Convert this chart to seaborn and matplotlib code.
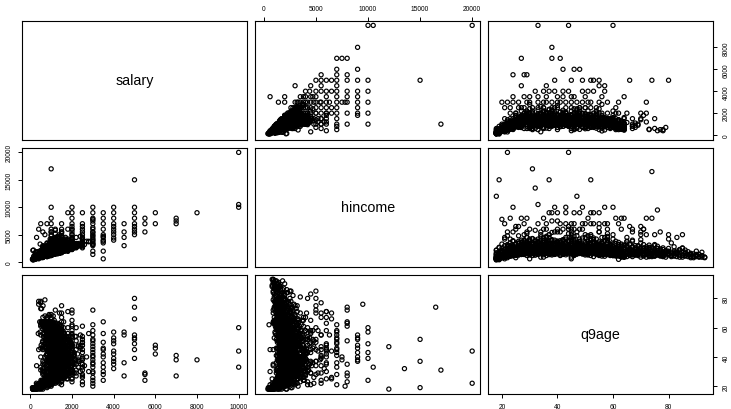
import numpy as np
import pandas as pd
import matplotlib
matplotlib.use("Agg")
import matplotlib.pyplot as plt
import seaborn as sns

nan = np.nan

# ---- respondents with a salary (salary, household income, age) ----
salary_core = [
    300, 500, 600, 800, 1000, 700, 1200, 900, 1500, 1000, 1300, 800, 450, 650, 1100, 1400, 2000, 400, 750, 950,
    1600, 1800, 2200, 200, 350, 550, 850, 1250, 1700, 1000, 1500, 2000, 2500, 1200, 600, 800, 1000, 1500, 1800, 2400,
    1000, 1200, 1500, 800, 2000, 1100, 900, 1300, 1600, 2500, 700, 1800, 1000, 1400, 2200, 500, 1700, 1900, 600, 1250,
    2800, 1000, 1500, 2000, 1200, 800, 1000, 1500, 2000, 900, 1350, 1100, 2300, 600, 1000, 1700, 800, 1500, 1200, 2600,
    1000, 1500, 1200, 2000, 800, 1800, 1300, 1000, 2500, 1600, 700, 1100, 1500, 900, 2000, 1400, 1000, 2200, 600, 1200,
    2700, 1000, 1600, 2000, 1100, 800, 1500, 1200, 1800, 1000, 500, 2100, 1300, 1000, 600, 2400, 1700, 900, 1500, 1900,
    1000, 1500, 1200, 800, 2000, 1100, 1800, 1300, 900, 600, 2500, 1000, 1600, 1200, 700, 2200, 1400, 500, 1000, 1500,
    1700, 900, 1000, 2800, 1300, 1000, 2000, 1500, 800, 1100, 1200, 600, 1900, 1000, 1500, 2400, 800, 1400, 2000, 1000,
    1000, 1500, 800, 1200, 600, 2000, nan, nan, 700, nan, 1800, 500, 1100, nan, nan, 2500, 1000, nan, nan, 900,
    2200, 1000, 1600, nan, 1100, 700, 1300, nan, 1500, nan, 1200, 900, 2000, 600, 1000, nan, nan, 800, nan, nan,
    nan, nan, 1200, nan, nan, 1500, nan, 500, nan, nan, 2000, nan, nan, nan, 400, nan, nan, nan, nan, 700,
    nan, nan, nan, nan, nan, nan, nan, nan, nan, nan, nan, nan, nan, nan, nan, nan, nan, nan, nan, nan,
    500, 800, 1000, 1200, 1500, 1800, 2000, 1000, 1200, 800, 1500, 1000, 1800, 1200, 1000, 800, 1500, 1200, 1000, 900,
    1000, 1200, 800, nan, 600, nan, nan, 500, nan, nan, 250, 400, 700, 1000, 1300, 1600, 1000, 2000, 1500, 1200,
    2000, 1000, 1500, 1200, 1000, 1800, 1300, 1000, 1500, 800, 1000, 700, nan, 900, nan, nan, nan, nan, nan, nan,
    1100, 1400, 600, 1500, 800, 1800, 1000, 1600, 1200, 2000, 1400, 1000, 1100, 1300, 1500, nan, nan, nan, 400, nan,
    700, 2000, 1000, 1500, 1200, 2500, 1000, 1800, 1400, 1000, 1500, 1200, 2000, 900, 1400, nan, nan, nan, nan, nan,
    1500, 900, 1200, 600, 1500, 1000, 1200, 800, 1000, 1500, 900, 1300, 1500, 1600, 1000, nan, nan, nan, nan, 500,
    800, 1200, 1800, 1000, 2200, 1300, 900, 1500, 2000, 800, 1300, 1600, 800, 1200, 600, 900, nan, nan, nan, nan,
    1000, 1600, 2000, 900, 1500, 1300, 1100, 1800, 1300, 1900, 1000, 1500, 700, 1200, nan, nan, nan, nan, nan, nan,
    1300, 900, 1500, 1100, 2000, 1400, 1000, 1600, 1000, 1200, 2200, 1000, 1500, 800, nan, 1000, nan, nan, nan, nan,
    600, 1000, 1000, 1700, 1200, 1800, 1500, 2100, 1300, 1000, 1800, 1500, 1000, 1300, 900, 1100, nan, nan, nan, nan,
    1000, 700, 1200, 2000, 1200, 1600, 1200, 2000, 1300, 800, 1000, 1400, nan, nan, nan, nan, nan, nan, nan, nan,
    1000, 1300, 1100, 1400, 1500, 1000, 1300, 1100, 1200, nan, nan, nan, nan, nan, nan, nan, 1200, 1000, 1800, 1600,
    200, 400, 900, 1500, 700, 1100, 1300, 600, 1700, 900, 2300, 1300, 800, 1600, 1000, 1100, 700, 1300, 900, 1200,
    1100, 1300, 1000, 600, 100, 500, 1300, 1100, 800, 2000, 600, 1200, 1600, 1000, 1800, 1200, 900, 1400, 1700, 700,
    1200, 700, 1100, 1600, 1300, 500, 700, 150, 1000, 1300, 1500, 1000, 1200, 1100, 900, 1000, 1100, 1000, 1500, 1400,
    600, 1000, 800, 1000, 1200, 1000, 800, 1000, 1000, 1400, 2200, 1000, 1200, 1500, 2400, 1500, 1200, 800, 300, 500,
]
hincome_core = [
    800, 1500, 2100, 1200, 3000, 2500, 1800, 3300, 2400, 4000, 2000, 3500, 1100, 2800, 1900, 3800, 2600, 1600, 2300, 4200,
    2200, 3100, 4500, 700, 900, 1300, 2000, 1700, 2900, 1500, 3500, 2300, 3600, 5200, 2700, 1000, 2600, 4800, 4000, 3000,
    2000, 3200, 2500, 1800, 4000, 1600, 3000, 4500, 2100, 3300, 1400, 2600, 5500, 2200, 2900, 1200, 4200, 3600, 2800, 1900,
    3800, 1300, 4600, 2600, 2000, 2500, 3700, 1900, 5000, 1500, 2700, 4300, 3100, 900, 1700, 2400, 3400, 3000, 5800, 3200,
    2200, 3000, 1800, 4200, 1500, 2500, 3600, 4800, 3200, 2100, 1900, 2800, 5200, 1300, 2600, 3900, 1600, 3400, 2000, 4400,
    3800, 2500, 2300, 6000, 1700, 1200, 4500, 2900, 2700, 3300, 1500, 2700, 2100, 4000, 900, 4700, 3500, 2200, 1800, 2400,
    2000, 3400, 2500, 1600, 4200, 2300, 2800, 3900, 1500, 1200, 3600, 5000, 2500, 2100, 2600, 3000, 4400, 1400, 2800, 2000,
    2600, 1800, 3500, 3700, 4700, 1400, 2700, 5500, 2000, 2400, 1700, 2200, 3300, 4100, 2100, 3200, 1100, 1800, 4500, 3000,
    2500, 2200, 1500, 3300, 1900, 3800, 1600, 2700, 1300, 2100, 4200, 1400, 3000, 2300, 2600, 3400, 1700, 1000, 4000, 1900,
    2900, 3600, 2400, 2200, 1800, 1100, 2000, 4500, 2800, 1500, 1600, 2600, 3200, 900, 1400, 3700, 2500, 1700, 3000, 2300,
    2000, 1500, 2800, 1200, 2400, 3000, 1600, 1100, 2300, 1700, 3500, 1900, 1400, 2100, 1000, 2600, 3100, 1800, 1300, 2000,
    1500, 1200, 2000, 1000, 1800, 900, 1600, 1400, 1100, 800, 2500, 1700, 2200, 1300, 1000, 1200, 900, 1100, 800, 2600,
    1400, 1000, 1600, 2900, 3100, 2400, 3500, 2800, 1500, 2000, 4000, 1300, 2300, 1900, 2500, 2700, 2000, 3600, 1200, 2500,
    1800, 2000, 2300, 1500, 2200, 1200, 1300, 1600, 1100, 1800, 1800, 600, 1300, 2200, 3300, 2000, 2400, 3100, 2500, 3500,
    2800, 2000, 2100, 3700, 2600, 2300, 1700, 3100, 4000, 2800, 1800, 2600, 1500, 1400, 2600, 900, 1600, 2500, 1200, 1600,
    1900, 2000, 3000, 1700, 2200, 3900, 3200, 2200, 4100, 2900, 1800, 3700, 2200, 1500, 2600, 2000, 1800, 2700, 1400, 900,
    1700, 2800, 1400, 3700, 2100, 3100, 4100, 2000, 2700, 1600, 2200, 2000, 3500, 3300, 1600, 2900, 1800, 2100, 1000, 2200,
    2400, 1300, 2300, 1900, 3300, 1200, 2400, 2500, 1700, 2900, 1300, 2300, 2600, 2100, 3100, 2000, 2800, 1700, 2000, 1300,
    2600, 2100, 2400, 2500, 2700, 2600, 1600, 3300, 2300, 2900, 1900, 4200, 2300, 3500, 2000, 1100, 1500, 1300, 2300, 1700,
    3000, 2700, 2500, 2300, 3000, 2000, 1500, 3000, 2300, 2500, 2600, 1900, 1700, 2200, 3300, 1300, 2500, 1900, 1600, 1900,
    2000, 1800, 3000, 2700, 3300, 1800, 2900, 2100, 1900, 3700, 2600, 2500, 3300, 1700, 2100, 1600, 2200, 1500, 1100, 1500,
    1000, 2200, 3900, 2200, 2300, 2000, 3500, 2700, 3200, 2200, 2100, 1800, 2300, 1600, 2100, 2800, 1900, 1700, 1500, 1700,
    1800, 2500, 3400, 3300, 2000, 2800, 2300, 3800, 2000, 2000, 2700, 2300, 1800, 1700, 2000, 1500, 1200, 1800, 1400, 1300,
    2500, 2600, 2000, 2900, 3500, 1800, 3000, 2900, 2500, 1300, 1500, 2200, 2000, 1700, 1300, 1500, 1800, 3400, 2600, 2300,
    600, 1400, 1500, 2000, 2100, 1700, 4000, 1300, 2600, 3200, 3000, 2100, 2800, 3800, 1900, 2300, 1600, 2400, 2900, 3400,
    1900, 2400, 1600, 1300, 500, 1700, 1900, 1600, 2300, 3000, 2100, 1900, 2200, 2600, 2500, 1800, 3100, 2200, 2500, 2000,
    2900, 1700, 2700, 2400, 2100, 1800, 1300, 2200, 2000, 2700, 1800, 2700, 3500, 1600, 2400, 2200, 1700, 1900, 3800, 1600,
    1100, 2400, 1600, 2100, 2600, 3000, 1300, 2000, 1900, 2800, 3200, 1600, 1800, 2400, 3100, 2800, 1900, 2300, 900, 1200,
]
age_core = [
    18, 19, 20, 21, 22, 23, 24, 25, 26, 27, 28, 29, 20, 22, 24, 26, 28, 19, 21, 23,
    25, 27, 29, 18, 20, 22, 24, 26, 28, 21, 23, 25, 27, 29, 19, 22, 24, 26, 28, 30,
    30, 31, 32, 33, 34, 35, 36, 37, 38, 39, 30, 32, 34, 36, 38, 31, 33, 35, 37, 39,
    30, 32, 34, 36, 38, 31, 33, 35, 37, 39, 30, 31, 33, 35, 36, 37, 38, 39, 32, 34,
    40, 41, 42, 43, 44, 45, 46, 47, 48, 49, 40, 42, 44, 46, 48, 41, 43, 45, 47, 49,
    40, 42, 44, 46, 48, 41, 43, 45, 47, 49, 40, 41, 43, 44, 45, 46, 47, 48, 49, 42,
    50, 51, 52, 53, 54, 55, 56, 57, 58, 59, 50, 52, 54, 56, 58, 51, 53, 55, 57, 59,
    50, 52, 54, 56, 58, 51, 53, 55, 57, 59, 50, 51, 52, 53, 54, 55, 56, 57, 58, 59,
    60, 61, 62, 63, 64, 65, 66, 67, 68, 69, 60, 62, 64, 66, 68, 61, 63, 65, 67, 69,
    60, 62, 64, 66, 68, 61, 63, 65, 67, 69, 60, 61, 62, 63, 64, 65, 66, 67, 68, 69,
    70, 71, 72, 73, 74, 75, 76, 77, 78, 79, 70, 72, 74, 76, 78, 71, 73, 75, 77, 79,
    80, 81, 82, 83, 84, 85, 86, 87, 88, 89, 80, 82, 84, 86, 88, 90, 91, 92, 93, 85,
    18, 20, 23, 25, 27, 29, 31, 33, 35, 37, 39, 41, 43, 45, 47, 49, 51, 53, 55, 57,
    59, 61, 63, 65, 67, 69, 71, 73, 75, 77, 19, 21, 24, 26, 28, 32, 34, 36, 38, 40,
    42, 44, 46, 48, 50, 52, 54, 56, 58, 60, 62, 64, 66, 68, 70, 72, 74, 76, 78, 80,
    22, 25, 28, 31, 34, 37, 40, 43, 46, 49, 52, 55, 58, 61, 64, 67, 70, 73, 76, 79,
    20, 23, 26, 29, 32, 35, 38, 41, 44, 47, 50, 53, 56, 59, 62, 65, 68, 71, 74, 77,
    21, 24, 27, 30, 33, 36, 39, 42, 45, 48, 51, 54, 57, 60, 63, 66, 69, 72, 75, 78,
    19, 22, 25, 28, 31, 34, 37, 40, 43, 46, 49, 52, 55, 58, 61, 64, 67, 70, 73, 76,
    23, 26, 29, 32, 35, 38, 41, 44, 47, 50, 53, 56, 59, 62, 65, 68, 71, 74, 77, 80,
    24, 27, 30, 33, 36, 39, 42, 45, 48, 51, 54, 57, 60, 63, 66, 69, 72, 75, 78, 81,
    18, 21, 24, 27, 30, 33, 36, 39, 42, 45, 48, 51, 54, 57, 60, 63, 66, 69, 72, 75,
    20, 22, 26, 30, 34, 38, 42, 46, 50, 54, 58, 62, 66, 70, 74, 78, 82, 86, 90, 84,
    31, 35, 39, 43, 47, 51, 55, 59, 63, 67, 71, 75, 79, 83, 87, 89, 44, 48, 52, 56,
    18, 20, 22, 24, 26, 28, 30, 32, 34, 36, 38, 40, 42, 44, 46, 48, 50, 52, 54, 56,
    58, 60, 62, 64, 19, 21, 23, 25, 27, 29, 31, 33, 35, 37, 39, 41, 43, 45, 47, 49,
    51, 53, 55, 57, 59, 61, 63, 18, 23, 28, 33, 38, 43, 48, 53, 58, 63, 30, 40, 50,
    20, 25, 30, 35, 40, 45, 50, 55, 60, 22, 27, 32, 37, 42, 47, 52, 57, 62, 34, 46,
]

# ---- more working-age respondents, non-rounded salaries ----
salary_more = [
    420, 580, 760, 940, 1150, 1350, 1550, 1750, 880, 640, 1250, 1450, 1050, 820, 1650, 520, 1950, 700, 1150, 380,
    880, 1250, 640, 1050, 180, 320, 580, 820, 1050, 1350, 1650, 1850, 2100, 1450, 940, 760, 1550, 1150, 700, 1950,
    1350, 940, 1150, 760, 1450, 1050, 520, 250, 880, 1650, 1250, 2100, 1050, 1750, 820, 480, 1150, 1450, 940, 1550,
    1750, 1250, 940, 700, 1350, 1850, 1550, 880, 1250, 1050, 640, 380, 1050, 1250, 2300, 1650, 1150, 1450, 760, 1050,
    940, 1550, 1050, 1850, 1350, 760, 1150, 880, 1250, 2100, 700, 1450, 1950, 1050, 1350, 320, 1650, 1150, 1750, 580,
    1450, 820, 1750, 1150, 2300, 940, 760, 640, 1450, 1950, 1050, 1650, 1150, 520, 880, 1350, 1250, 1850, 880, 1150,
    1550, 2100, 1050, 1250, 250, 1150, 1650, 1350, 760, 580, 1750, 1050, 1550, 940, 880, 1250, 1450, 1850, 820, 1150,
    180, 700, 1350, 1950, 1050, 1450, 1750, 1150, 1350, 1050, 700, 420, 940, 1250, 1550, 1650, 880, 2300, 1150, 640,
    1150, 1050, 820, 1450, 2100, 1250, 1550, 940, 1650, 880, 940, 580, 1350, 1050, 1250, 1450, 700, 1950, 1150, 1050,
    700, 1250, 1750, 1350, 1150, 580, 1050, 1450, 1850, 1250, 520, 1150, 940, 1550, 1050, 880, 1350, 1050, 320, 1650,
    1150, 1650, 940, 1450, 1250, 1750, 1050, 1350, 820, 120, 1050, 1550, 1250, 1950, 880, 1450, 1250, 1050, 1550, 1150,
    1050, 880, 1150, 1450, 1050, 1350, 1850, 1150, 1650, 1350, 940, 1250, 760, 700, 1250, 1650, 1450, 1050, 2100, 1350,
    1250, 1450, 1150, 880, 380, 940, 1550, 1750, 1150, 1250, 1350, 1050, 1650, 1250, 940, 640, 1050, 1450, 1250, 1550,
    250, 320, 480, 640, 820, 1050, 1150, 1350, 1250, 940, 1450, 1650, 1050, 1250, 1150, 1550, 1350, 1750, 1450, 1050,
    1250, 1350, 1150, 1450, 1050, 1250, 1650, 1350, 1150, 1250, 1450, 1050, 1350, 1150, 1250, 1550, 1050, 1250, 1150, 1350,
    1050, 1150, 940, 1050, 880, 760, 640, 420, 760, 1150, 1050, 1250, 1150, 1350, 1250, 1450, 1350, 1250, 1550, 1450,
    1350, 1450, 1250, 1050, 1150, 1350, 1250, 1050, 940, 820, 520, 880, 1050, 1350, 1150, 1450, 1650, 1250, 1550, 1350,
]
hincome_more = [
    900, 1300, 2100, 1600, 2400, 3100, 2000, 2900, 1700, 2300, 1900, 3600, 1500, 2800, 2200, 1700, 3300, 1200, 2600, 1400,
    2400, 1800, 1700, 2200, 600, 1900, 1100, 2700, 1600, 2500, 2300, 3700, 2600, 3300, 1400, 2900, 2000, 4100, 1500, 2800,
    2100, 2300, 1700, 1900, 3200, 1500, 1600, 1300, 2000, 3400, 2700, 3100, 2400, 2600, 1200, 1000, 3500, 2000, 1800, 2500,
    2900, 1800, 2700, 1400, 2200, 2700, 3700, 1700, 4000, 2800, 1500, 1500, 1900, 2300, 3400, 2400, 2900, 2300, 1600, 3800,
    1500, 2600, 1700, 2600, 2000, 2200, 3000, 1400, 1900, 3000, 2400, 2000, 2900, 1600, 2000, 900, 2100, 2700, 3500, 1900,
    2200, 1300, 2400, 3300, 3000, 2000, 1300, 1700, 2500, 2800, 1900, 2600, 2000, 2200, 3000, 2100, 1800, 3200, 1500, 1700,
    2100, 2700, 1900, 3300, 1100, 1700, 2400, 2100, 2800, 1300, 2300, 3200, 2300, 2400, 2500, 1800, 1900, 2600, 1600, 2200,
    700, 1100, 2000, 2900, 1500, 2200, 2500, 1800, 2900, 1700, 1600, 1200, 1400, 2300, 2700, 3900, 1700, 3200, 1700, 1400,
    2100, 1600, 1800, 2000, 2900, 2600, 2300, 1500, 2300, 2700, 1700, 800, 1800, 1600, 3100, 2000, 1800, 2500, 2200, 2000,
    1200, 2100, 2500, 2000, 1800, 1200, 2600, 2800, 2900, 2100, 1100, 1600, 1500, 2400, 1500, 1400, 2400, 1700, 1000, 2900,
    1600, 2300, 2000, 2600, 2200, 2400, 1700, 2200, 1300, 500, 1800, 2200, 1900, 2600, 2100, 2100, 1900, 2300, 2000, 1700,
    1500, 1900, 1600, 2300, 1900, 2500, 2300, 2400, 2200, 1700, 1600, 1800, 1100, 1600, 1600, 2500, 1800, 2200, 2800, 2300,
    2000, 2500, 1500, 1700, 700, 1500, 2000, 2200, 1900, 1800, 2400, 1500, 2500, 1800, 1600, 1000, 1500, 2000, 2200, 2100,
    500, 1200, 800, 1000, 1300, 1400, 1500, 1800, 1700, 1400, 1900, 2000, 1500, 1900, 2000, 2000, 1700, 2200, 2300, 1600,
    1800, 1700, 1700, 1900, 1400, 2000, 2100, 1900, 1600, 1700, 2200, 1500, 1800, 1600, 1900, 2100, 1500, 1700, 1600, 1900,
    1500, 1600, 1400, 1400, 1300, 1200, 1000, 900, 1100, 1600, 1400, 1700, 1600, 1800, 1700, 1900, 1900, 1700, 2000, 2000,
    1700, 1900, 1800, 1500, 1600, 2000, 1700, 1600, 1400, 1100, 1000, 1200, 1300, 1700, 1600, 2000, 2100, 1600, 2100, 1700,
]
age_more = [
    18, 20, 22, 24, 26, 28, 30, 32, 34, 36, 38, 40, 42, 44, 46, 48, 50, 52, 54, 56,
    58, 60, 62, 64, 19, 21, 23, 25, 27, 29, 31, 33, 35, 37, 39, 41, 43, 45, 47, 49,
    51, 53, 55, 57, 59, 61, 63, 18, 24, 30, 36, 42, 48, 54, 60, 20, 26, 32, 38, 44,
    50, 56, 62, 22, 28, 34, 40, 46, 52, 58, 64, 19, 25, 31, 37, 43, 49, 55, 61, 33,
    21, 27, 33, 39, 45, 51, 57, 63, 23, 29, 35, 41, 47, 53, 59, 18, 26, 34, 42, 50,
    58, 24, 32, 40, 48, 56, 64, 20, 28, 36, 44, 52, 60, 22, 30, 38, 46, 54, 62, 27,
    35, 43, 51, 59, 19, 31, 39, 47, 55, 63, 25, 37, 49, 61, 23, 41, 53, 29, 45, 57,
    18, 21, 26, 30, 35, 39, 44, 48, 53, 57, 62, 20, 25, 29, 34, 38, 43, 47, 52, 56,
    61, 23, 27, 32, 36, 41, 45, 50, 54, 59, 63, 22, 31, 40, 49, 58, 24, 33, 42, 51,
    60, 26, 35, 44, 53, 62, 28, 37, 46, 55, 64, 30, 39, 48, 57, 21, 34, 47, 19, 36,
    38, 41, 44, 47, 50, 53, 56, 59, 62, 18, 22, 26, 30, 34, 38, 42, 46, 50, 54, 58,
    62, 20, 24, 28, 32, 36, 40, 44, 48, 52, 56, 60, 64, 21, 25, 29, 33, 37, 41, 45,
    49, 53, 57, 61, 19, 23, 27, 31, 35, 39, 43, 47, 51, 55, 59, 63, 34, 46, 28, 40,
    18, 19, 20, 21, 22, 23, 24, 25, 26, 27, 28, 29, 30, 31, 32, 33, 34, 35, 36, 37,
    38, 39, 40, 41, 42, 43, 44, 45, 46, 47, 48, 49, 50, 51, 52, 53, 54, 55, 56, 57,
    58, 59, 60, 61, 62, 63, 64, 19, 21, 23, 25, 27, 29, 31, 33, 35, 37, 39, 41, 43,
    45, 47, 49, 51, 53, 55, 57, 59, 61, 63, 20, 22, 24, 26, 28, 30, 32, 34, 36, 38,
]

# ---- further respondents in the main cloud ----
salary_extra = [
    230, 370, 510, 690, 830, 970, 1110, 1290, 1430, 1570, 1710, 1890, 630, 470, 1030, 770, 150, 290, 910, 1190,
    1370, 1510, 870, 1030, 1690, 590, 1230, 1410, 990, 1130, 730, 450, 330, 670, 1090, 1270, 1610, 1790, 1150, 1330,
    870, 1470, 1190, 930, 1570, 810, 610, 190, 560, 1210, 1490, 1710, 1330, 1010, 890, 410, 1170, 1390, 1950, 1110,
    1290, 990, 690, 350, 790, 1430, 1090, 1630, 1510, 1170, 850, 520, 970, 1830, 1270, 1390, 1610, 1050, 260, 740,
    1130, 1570, 1370, 1210, 930, 770, 430, 1070, 1290, 1750, 1010, 1470, 1230, 590, 130, 890, 1650, 1190, 1350, 970,
    310, 1010, 1530, 890, 1110, 1370, 650, 1210, 990, 1570, 1290, 810, 880, 1450, 1130, 1730, 1050, 690, 950, 1310,
    1430, 1630, 1190, 110, 480, 710, 840, 1060, 1220, 990, 1370, 1170, 1490, 1610, 1270, 1090, 1550, 1330, 1410, 1170,
    1310, 1090, 1470, 870, 1030, 710, 530, 240, 560, 790, 1010, 1190, 1350, 1130, 1290, 1570, 1210, 1430, 1690, 1370,
    1250, 1510, 1110, 1390, 1190, 1070, 1290, 930, 850, 670, 390, 750, 1150, 1330, 1410, 1230, 1370, 1170, 1450, 990,
    970, 610, 170, 590, 930, 1270, 1390, 1090, 1510, 1270, 1210, 1130, 1050, 790, 460, 880, 1170, 1250, 1310, 1470,
    1350, 1190, 1290, 1110, 890, 330, 710, 1030, 1170, 1450, 1230, 1590, 1090, 1230, 1370, 1010, 740, 1110, 1530, 1210,
    1070, nan, nan, nan, nan, 830, nan, 610, nan, 1150, nan, nan, nan, 540, nan, nan, 930, 1090, 1270, 1150,
    870, 1130, 1410, 1690, 1070, 1330, 1590, 1190, 1450, 930, 280, 770, 1210, 1530, 1390, 1010, 560, 1310, 1770, 1090,
    1490, 690, 430, 1050, 1630, 1290, 1150, 1230, 210, 990, 1370, 1710, 1090, 870, 640, 1190, 1550, 1410, 1270, 790,
    1170, 1490, 930, 1610, 1330, 510, 1270, 1090, 1850, 1170, 710, 160, 1450, 1230, 1050, 370, 1590, 1390, 1110, 1310,
    1970, 1530, 870, 1010, 1750, 990, 1290, 1170, 1410, 1250, 640, 470, 1930, 1670, 910, 1390, 1110, 1350, 340, 1510,
    1630, 1190, 580, 1330, 1090, 1450, 950, 1570, 1310, 770, 410, 1050, 1890, 1210, 600, 690, 1230, 1470, 1030, 1170,
    190, 540, 360, 870, 610, 1130, 740, 1350, 960, 1590, 1070, 1810, 1290, 2030, 850, 1470, 1990, 2210, 1180, 2350,
    2130, 890, 1750, 1230, 2270, 1010, 1570, 1870, 730, 1390, 2010, 1110, 1690, 940, 1810, 1290, 2150, 1050, 1630, 820,
    1370, 1030, 1190, 870, 1310, 690, 590, nan, 120, 250, 470, 710, 930, 1210, 590, 1470, 860, 1690, 1130, 1930,
]
hincome_extra = [
    610, 890, 1230, 1470, 1310, 2170, 1590, 2010, 2330, 1990, 2610, 2470, 1430, 1070, 1830, 1590, 430, 1130, 2270, 1710,
    2290, 1970, 1410, 2570, 2110, 1390, 1670, 2890, 1530, 2310, 1270, 910, 870, 1290, 1710, 1930, 2390, 2210, 1830, 2670,
    1690, 2130, 1610, 1870, 2370, 1510, 1190, 730, 1410, 1630, 2470, 2290, 2010, 1390, 1770, 1030, 2270, 2110, 2730, 1570,
    1810, 1790, 1330, 1190, 1350, 2050, 1930, 2410, 2290, 1630, 1290, 1650, 1510, 2690, 1970, 1870, 2530, 1410, 970, 1210,
    1770, 2130, 1970, 2090, 1530, 1490, 1510, 1390, 1910, 2310, 2270, 1930, 1790, 1150, 390, 1870, 2190, 1710, 2170, 1810,
    830, 1690, 2410, 1330, 1950, 1910, 1470, 1830, 1370, 2230, 2010, 1230, 1530, 1990, 1670, 2490, 1390, 1110, 2030, 1890,
    2370, 2090, 1710, 610, 990, 1190, 1490, 1430, 1690, 1510, 1830, 1990, 2230, 2130, 1770, 1610, 2090, 1850, 2330, 1570,
    1970, 1730, 1870, 1470, 1550, 1150, 970, 710, 1030, 1190, 1410, 1610, 1930, 1690, 1810, 2090, 1710, 1970, 2210, 2050,
    1690, 2010, 1530, 1830, 1650, 1410, 1790, 1330, 1230, 1090, 810, 1130, 1470, 1770, 1890, 1590, 1930, 1570, 2070, 1390,
    1430, 930, 550, 1070, 1290, 1630, 1790, 1470, 1950, 1690, 1550, 1510, 1370, 1170, 870, 1310, 1590, 1610, 1730, 1890,
    1710, 1550, 1690, 1430, 1270, 910, 1110, 1390, 1530, 1870, 1570, 1990, 1490, 1570, 1750, 1310, 1070, 1470, 1990, 1630,
    1510, 1330, 1790, 1190, 1570, 1390, 1290, 1110, 1650, 1830, 1410, 1270, 1510, 1230, 1350, 1690, 1430, 1570, 1650, 1490,
    2410, 2830, 3170, 3530, 2690, 2970, 3310, 2510, 3090, 2230, 1710, 2190, 3450, 3810, 2890, 2370, 1890, 2670, 3230, 2150,
    3370, 2110, 1970, 2930, 2610, 3690, 2270, 2790, 1290, 2590, 3950, 2870, 3110, 1950, 2490, 3570, 2350, 3010, 2430, 1830,
    3250, 2490, 2730, 2590, 2170, 1490, 2050, 3310, 3470, 2930, 1630, 1070, 2270, 4090, 2570, 1310, 3790, 2650, 1870, 2110,
    2890, 2370, 1690, 2610, 3710, 1890, 2470, 2790, 3370, 3830, 1490, 1670, 3030, 2630, 1770, 3190, 2970, 2230, 1150, 4230,
    2530, 3270, 1230, 2330, 3910, 2410, 2110, 2470, 2010, 1730, 1370, 3610, 2810, 3490, 1410, 1770, 4370, 3170, 2670, 2430,
    510, 1070, 1430, 1190, 2310, 1530, 2870, 1710, 1690, 2090, 2810, 2370, 1990, 2590, 3170, 2190, 2510, 2890, 3410, 2970,
    2730, 2610, 2470, 3050, 3010, 1590, 3950, 2490, 2170, 2990, 2890, 1710, 4510, 1630, 2370, 3530, 3190, 2290, 2330, 1890,
    2830, 1690, 2270, 1990, 1790, 1310, 1170, 1890, 2130, 1490, 3290, 1590, 1870, 2670, 2090, 2310, 1890, 2530, 3850, 2670,
]
age_extra = [
    18, 21, 24, 27, 30, 33, 36, 39, 42, 45, 48, 51, 54, 57, 60, 63, 19, 22, 25, 28,
    31, 34, 37, 40, 43, 46, 49, 52, 55, 58, 61, 64, 20, 23, 26, 29, 32, 35, 38, 41,
    44, 47, 50, 53, 56, 59, 62, 18, 24, 30, 36, 42, 48, 54, 60, 21, 27, 33, 39, 45,
    51, 57, 63, 20, 26, 32, 38, 44, 50, 56, 62, 23, 29, 35, 41, 47, 53, 59, 19, 25,
    31, 37, 43, 49, 55, 61, 22, 28, 34, 40, 46, 52, 58, 64, 18, 26, 34, 42, 50, 58,
    19, 27, 35, 43, 51, 59, 21, 29, 37, 45, 53, 61, 23, 31, 39, 47, 55, 63, 25, 33,
    41, 49, 57, 18, 20, 22, 24, 26, 28, 30, 32, 34, 36, 38, 40, 42, 44, 46, 48, 50,
    52, 54, 56, 58, 60, 62, 64, 19, 21, 23, 25, 27, 29, 31, 33, 35, 37, 39, 41, 43,
    45, 47, 49, 51, 53, 55, 57, 59, 61, 63, 20, 24, 28, 32, 36, 40, 44, 48, 52, 56,
    60, 64, 18, 22, 26, 30, 34, 38, 42, 46, 50, 54, 58, 62, 21, 25, 29, 33, 37, 41,
    45, 49, 53, 57, 61, 19, 23, 27, 31, 35, 39, 43, 47, 51, 55, 59, 63, 26, 36, 46,
    56, 66, 70, 74, 78, 67, 71, 75, 79, 65, 72, 76, 68, 73, 77, 69, 64, 61, 58, 54,
    24, 28, 32, 36, 40, 44, 48, 52, 56, 60, 18, 26, 34, 42, 50, 58, 22, 30, 38, 46,
    54, 62, 20, 28, 36, 44, 52, 60, 19, 27, 35, 43, 51, 59, 23, 31, 39, 47, 55, 63,
    25, 33, 41, 49, 57, 21, 29, 37, 45, 53, 61, 18, 30, 42, 54, 20, 32, 44, 56, 26,
    38, 50, 62, 24, 36, 48, 60, 27, 39, 51, 63, 22, 34, 46, 58, 29, 41, 53, 19, 31,
    43, 55, 21, 33, 45, 57, 25, 37, 49, 61, 20, 28, 40, 52, 64, 23, 35, 47, 59, 30,
    18, 19, 20, 21, 22, 23, 24, 25, 26, 27, 28, 29, 30, 31, 32, 33, 34, 35, 36, 37,
    38, 39, 40, 41, 42, 43, 44, 45, 46, 47, 48, 49, 50, 51, 52, 53, 54, 55, 56, 57,
    58, 59, 60, 61, 62, 63, 64, 65, 18, 19, 20, 21, 22, 23, 24, 25, 26, 27, 28, 29,
]

# ---- high earners and other scattered respondents ----
salary_tail = [
    10000, 10000, 10000, 8000, 7000, 7000, 7000, 6000, 6000, 6000,
    5500, 5500, 5500, 5000, 5000, 5000, 5000, 5000, 5000, 5000, 5000, 5000,
    4500, 4500, 4500, 4500,
    4000, 4000, 4000, 4000, 4000, 4000, 4000, 4000, 4000, 4000,
    3500, 3500, 3500, 3500, 3500, 3500, 3500, 3500, 3500, 3500, 3500, 3500,
    3000, 3000, 3000, 3000, 3000, 3000, 3000, 3000, 3000, 3000, 3000,
    3000, 3000, 3000, 3000, 3000, 3000, 3000, 3000, 3000, 3000, 3000,
    2500, 2500, 2500, 2500, 2500, 2500, 2500, 2500, 2500, 2500, 2500, 2500, 2500, 2500, 2500,
    2000, 2000, 2000, 2000, 2000, 2000, 2000, 2000,
    1500, 1500, 1800, 1500, 1400, 1800,
    1000, 1000, 1000, 1000, 1000, 1000, 1200,
    500, 800, 400, 600, 700, 300,
]
hincome_tail = [
    20000, 10500, 10000, 9000, 7000, 7500, 8000, 9000, 7000, nan,
    8000, 7000, 5500, 15000, 9000, 5000, 5500, 6000, 10000, 7000, 6500, 8000,
    7000, 5500, 4500, 3000,
    10000, 9000, 8000, 7000, 6500, 6000, 5500, 5000, 4400, 4000,
    9000, 8000, 7000, 6000, 4700, 3500, 2000, 600, 5000, 4000, 4500, 3800,
    10000, 9000, 8000, 7800, 7000, 6300, 5400, 4200, 3300, 2000, 1400,
    3000, 3500, 4000, 4500, 5000, 6000, 3800, 3200, 4800, 5500, 7500,
    9000, 7000, 6000, 5000, 4500, 4000, 3500, 3000, 2600, 5500, 3800, 4200, 2800, 6500, 3300,
    10000, 9000, 8000, 7000, 6000, 5500, 5000, 6500,
    7000, 6000, 6000, 5500, 5000, 9000,
    17000, 10000, 8000, 7000, 6000, 5500, 6000,
    7000, 7000, 6000, 5500, 5000, 4500,
]
age_tail = [
    44, 33, 60, 38, 41, 38, 27, 48, 46, 42,
    29, 28, 24, 52, 55, 80, 45, 49, 39, 53, 66, 74,
    57, 55, 36, 27,
    57, 53, 51, 49, 44, 42, 39, 37, 35, 32,
    46, 64, 45, 40, 36, 33, 28, 30, 50, 42, 56, 24,
    49, 52, 72, 20, 43, 55, 38, 30, 47, 26, 33,
    41, 35, 58, 29, 45, 36, 24, 62, 51, 22, 40,
    43, 50, 35, 28, 45, 38, 31, 54, 23, 40, 48, 21, 33, 26, 52,
    43, 37, 61, 55, 30, 47, 72, 25,
    36, 58, 71, 70, 70, 40,
    31, 24, 35, 62, 48, 67, 44,
    33, 52, 45, 29, 60, 21,
]

# ---- respondents without a salary (household income and age only) ----
hincome_nosal = [
    1500, 2500, 3200, 800, 4000, 1800, 2500, 3500, 600, 2000, 2800, 1200, 1500, 2200, 1800, 2000, 1300, 1600, 1400, 900,
    600, 1100, 2000, 3000, 1300, 2500, 4200, 1000, 3600, 2400, 1800, 1000, 2600, 2800, 1100, 2000, 500, 3200, 2500, 1200,
    3000, 1600, 1200, 5000, 2300, 1700, 3000, 2600, 1900, 3100, 2400, 1600, 1300, 2300, 1900, 1000, 1800, 4500, 3800, 3500,
    2500, 4800, 2700, 5500, 4700, 3800, 3200, 1700, 800, 2100, 3800, 1500, 1700, 2300, 2900, 1200, 3400, 4000, 5200, 4100,
    1800, 1200, 2100, 1600, 1400, 2500, 1100, 1900, 1500, 2200, 1300, 1700, 2000, 1200, 1600, 1400, 1800, 1100, 1500, 1300,
    1200, 1600, 1000, 1400, 1100, 1300, 1000, 1200, 2800, 1000, 3000, 1600, 2600, 1200, 2400, 2100, 1000, 2000, 1700, 2300,
    1500, 1900, 2300, 900, 1800, 2700, 2000, 1700, 1300, 1600, 900, 2200, 1500, 1000, 2600, 1300, 3300, 1800, 1500, 3200,
    20000, 15000, 15000, 16500, 12000, 12000, 13500, 9500, 5000, 4200, 6000, 6000, 6000, 7000, 8000, 6000, 7000, 8000,
    6500, 5500, 4500, 5000, 900, 900,
]
age_nosal = [
    18, 20, 22, 25, 28, 31, 35, 40, 45, 50, 55, 60, 65, 70, 75, 80, 85, 88, 91, 93,
    19, 23, 27, 33, 38, 43, 48, 53, 58, 63, 68, 73, 78, 82, 86, 90, 62, 66, 72, 77,
    21, 24, 29, 34, 39, 44, 49, 54, 59, 64, 69, 74, 79, 84, 87, 89, 92, 57, 67, 81,
    85, 22, 30, 41, 52, 61, 71, 83, 88, 26, 36, 46, 56, 66, 76, 86, 32, 42, 58, 70,
    65, 66, 67, 68, 69, 70, 71, 72, 73, 74, 75, 76, 77, 78, 79, 80, 81, 82, 83, 84,
    85, 86, 87, 88, 89, 90, 91, 92, 65, 67, 69, 71, 73, 75, 77, 79, 81, 83, 60, 62,
    64, 66, 68, 70, 72, 74, 76, 78, 80, 82, 84, 86, 88, 90, 61, 63, 66, 69, 72, 75,
    22, 37, 19, 74, 47, 18, 32, 76, 85, 80, 71, 67, 63, 21, 23, 25, 58, 63,
    70, 77, 83, 75, 92, 93,
]

variables = ["salary", "hincome", "q9age"]
axis_limits = {"salary": (-400, 10400), "hincome": (-800, 20800), "q9age": (15, 96)}

df = pd.DataFrame({
    "salary": salary_core + salary_more + salary_extra + salary_tail + [nan] * len(hincome_nosal),
    "hincome": hincome_core + hincome_more + hincome_extra + hincome_tail + hincome_nosal,
    "q9age": age_core + age_more + age_extra + age_tail + age_nosal,
})

sns.set_theme(style="white", rc={"axes.edgecolor": "black", "axes.linewidth": 0.8,
                                 "xtick.color": "black", "ytick.color": "black"})
plt.rcParams["font.family"] = ["Liberation Sans", "DejaVu Sans"]

g = sns.PairGrid(df, vars=variables, height=1.3, aspect=1.9, despine=False)
g.map_offdiag(sns.scatterplot, marker="o", s=9, facecolor="none",
              edgecolor="black", linewidth=0.85)


def variable_name(x, **kws):
    ax = plt.gca()
    ax.text(0.5, 0.5, x.name, transform=ax.transAxes, ha="center", va="center",
            fontsize=10.3, color="black")


g.map_diag(variable_name)

fig = g.figure
fig.set_size_inches(7.31, 4.10)
fig.set_dpi(100)

for i, yv in enumerate(variables):
    for j, xv in enumerate(variables):
        ax = g.axes[i, j]
        ax.set_xlabel("")
        ax.set_ylabel("")
        ax.set_xlim(*axis_limits[xv])
        ax.set_ylim(*axis_limits[yv])
        ax.tick_params(axis="both", which="both", bottom=False, top=False, left=False,
                       right=False, labelbottom=False, labeltop=False,
                       labelleft=False, labelright=False)
        for sp in ax.spines.values():
            sp.set_linewidth(0.8)
            sp.set_color("black")

tick_style = dict(length=2.6, width=0.7, pad=4.2, labelsize=4.8, colors="black")

ax = g.axes[2, 0]
ax.set_xticks([0, 2000, 4000, 6000, 8000, 10000])
ax.tick_params(axis="x", bottom=True, labelbottom=True, **tick_style)

ax = g.axes[0, 1]
ax.set_xticks([0, 5000, 10000, 15000, 20000])
ax.tick_params(axis="x", top=True, labeltop=True, **tick_style)

ax = g.axes[2, 2]
ax.set_xticks([20, 40, 60, 80])
ax.tick_params(axis="x", bottom=True, labelbottom=True, **tick_style)
ax.set_yticks([20, 40, 60, 80])
ax.tick_params(axis="y", right=True, labelright=True, labelrotation=90, **tick_style)

ax = g.axes[0, 2]
ax.set_yticks([0, 2000, 4000, 6000, 8000])
ax.tick_params(axis="y", right=True, labelright=True, labelrotation=90, **tick_style)

ax = g.axes[1, 0]
ax.set_yticks([0, 5000, 10000, 15000, 20000])
ax.tick_params(axis="y", left=True, labelleft=True, labelrotation=90, **tick_style)

for ax in (g.axes[2, 2], g.axes[0, 2], g.axes[1, 0]):
    for lab in ax.get_yticklabels():
        lab.set_verticalalignment("center")

# panel layout in pixels
W, H = 731, 410
col_left = [22, 255.5, 488]
row_top = [22, 149, 276]
pw, ph = 225, 118.5
for i in range(3):
    for j in range(3):
        rect = [col_left[j] / W, 1 - (row_top[i] + ph) / H, pw / W, ph / H]
        g.axes[i, j].set_position(rect)
for k, dax in enumerate(g.diag_axes):
    dax.set_position(g.axes[k, k].get_position())

fig.savefig("out.png", dpi=100, facecolor="white")
